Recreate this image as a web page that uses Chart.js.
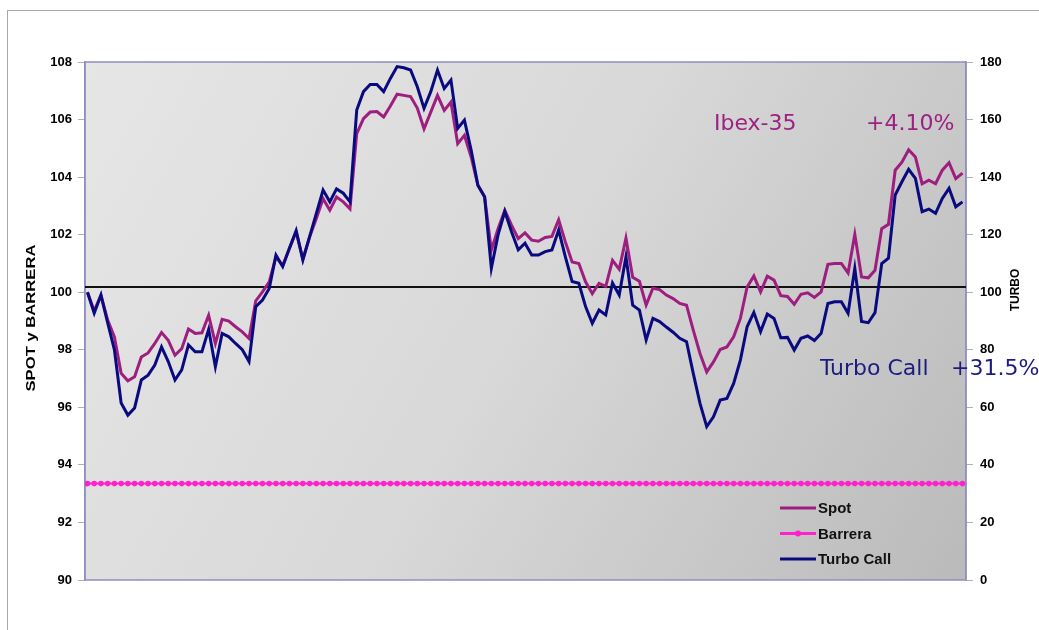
<!DOCTYPE html>
<html><head><meta charset="utf-8">
<script src="https://cdn.jsdelivr.net/npm/chart.js@4.4.1/dist/chart.umd.min.js"></script>
<style>
html,body{margin:0;padding:0;background:#fff;overflow:hidden;}
#wrap{position:relative;width:1039px;height:630px;}
#frame{position:absolute;left:7px;top:10px;width:1060px;height:660px;border:1px solid #a8a8a8;box-sizing:border-box;}
#c{position:absolute;left:0;top:0;}
</style></head><body>
<div id="wrap"><div id="frame"></div><canvas id="c" width="1039" height="630"></canvas></div>
<script>
// ---- data ----
const spot = [100.0,99.35,99.9,99.03,98.45,97.18,96.92,97.06,97.75,97.89,
  98.22,98.6,98.33,97.81,98.04,98.72,98.57,98.59,99.2,98.22,
  99.06,99.0,98.8,98.62,98.39,99.7,100.01,100.36,101.23,100.92,
  101.52,102.1,101.15,101.92,102.56,103.25,102.85,103.31,103.14,102.9,
  105.51,106.03,106.26,106.28,106.09,106.47,106.88,106.84,106.8,106.4,
  105.68,106.26,106.84,106.32,106.61,105.16,105.45,104.7,103.72,103.31,
  101.46,102.21,102.85,102.33,101.86,102.06,101.81,101.77,101.9,101.94,
  102.52,101.75,101.05,101.0,100.36,99.95,100.31,100.2,101.11,100.8,
  101.88,100.52,100.38,99.55,100.14,100.09,99.9,99.78,99.61,99.55,
  98.68,97.87,97.23,97.58,98.01,98.1,98.45,99.09,100.18,100.56,
  100.01,100.56,100.42,99.88,99.85,99.58,99.93,99.98,99.82,100.01,
  100.97,101.0,101.0,100.67,102.01,100.53,100.5,100.76,102.21,102.36,
  104.24,104.52,104.95,104.7,103.77,103.89,103.77,104.24,104.5,103.95,
  104.14];
const turbo = [100,92.7,99,89.3,80,61.5,57.3,59.8,69.5,71.2,
  74.7,81,75.9,69.5,73,81.7,79.3,79.3,87.1,74.1,
  85.7,84.5,82.2,80,75.9,95,97.3,101.3,112.9,108.9,
  115.3,121.4,111.2,119.3,127.4,135.5,131.4,135.9,134.4,131.4,
  163.3,169.7,172.2,172.2,169.7,174.3,178.4,178,177.2,171.4,
  163.9,169.7,177.2,170.8,173.7,156.9,159.8,149.4,137.2,133.2,
  108.3,119.9,128,121,114.7,117,112.9,112.9,114.1,114.7,
  121.6,112.3,103.7,103.1,95,89.2,93.8,92.1,103.2,99,
  112.3,95.5,93.8,83.4,90.9,89.8,87.9,86.1,84,82.8,
  71.8,61.4,53.3,56.7,62.5,63.1,68.3,76.4,88,93,
  86.3,92.4,90.9,84.2,84.3,79.9,84,84.8,83.2,85.7,
  96.1,96.7,96.7,92.7,108.3,89.8,89.4,92.9,110,111.8,
  133.8,138.4,142.7,139.6,128,128.9,127.4,132.6,136.1,129.7,
  131.4];
const barrierLevel = 93.35;
const strikeLevel = 100.18;
const seriesNames = ['Spot','Barrera','Turbo Call'];
const spotAxis = {min:90, max:108, step:2};
const turboAxis = {min:0, max:180, step:20};
const labelIbex = ['Ibex-35', '+4.10%'];
const labelTurbo = ['Turbo Call', '+31.5%'];

// ---- styles ----
const C_SPOT = '#9e1e80';
const C_BAR = '#ff22cc';
const C_TURBO = '#0a0a80';
const C_EDGE = '#8f8fc2';
const FONT = '"Liberation Sans", Arial, sans-serif';

const days = spot.map((_, i) => i);
const barrera = days.map(() => barrierLevel);

const bgPlugin = {
  id: 'bg',
  beforeDraw(chart) {
    const {ctx, chartArea: a} = chart;
    const g = ctx.createLinearGradient(a.left, a.top, a.right, a.bottom);
    g.addColorStop(0, '#e6e6e6');
    g.addColorStop(0.5, '#d8d8d8');
    g.addColorStop(1, '#bababa');
    ctx.save();
    ctx.fillStyle = g;
    ctx.fillRect(a.left, a.top, a.right - a.left, a.bottom - a.top);
    ctx.restore();
  },
  beforeDatasetsDraw(chart) {
    const {ctx, chartArea: a, scales} = chart;
    ctx.save();
    ctx.strokeStyle = C_EDGE;
    ctx.lineWidth = 1.5;
    ctx.strokeRect(a.left, a.top, a.right - a.left, a.bottom - a.top);
    const y = scales.y.getPixelForValue(strikeLevel);
    ctx.strokeStyle = '#111';
    ctx.lineWidth = 2;
    ctx.beginPath(); ctx.moveTo(a.left, y); ctx.lineTo(a.right, y); ctx.stroke();
    ctx.restore();
  },
  afterDraw(chart) {
    const {ctx} = chart;
    ctx.save();
    // annotations
    ctx.font = '22px "DejaVu Sans", Verdana, sans-serif';
    ctx.textBaseline = 'alphabetic';
    ctx.textAlign = 'left';
    ctx.fillStyle = '#9c2282';
    ctx.fillText(labelIbex[0], 714, 130);
    ctx.fillText(labelIbex[1], 866, 130);
    ctx.fillStyle = '#1c1c80';
    ctx.fillText(labelTurbo[0], 820, 375);
    ctx.fillText(labelTurbo[1], 951, 375);
    // axis titles
    ctx.fillStyle = '#000';
    ctx.font = 'bold 13px ' + FONT;
    ctx.textAlign = 'center';
    ctx.textBaseline = 'middle';
    ctx.save();
    ctx.translate(31, 318);
    ctx.rotate(-Math.PI / 2);
    ctx.scale(1.28, 1);
    ctx.fillText('SPOT y BARRERA', 0, 0);
    ctx.restore();
    ctx.save();
    ctx.font = 'bold 12px ' + FONT;
    ctx.translate(1016, 290);
    ctx.rotate(-Math.PI / 2);
    ctx.fillText('TURBO', 0, 0);
    ctx.restore();
    // legend
    const rows = [[seriesNames[0], C_SPOT, false], [seriesNames[1], C_BAR, true], [seriesNames[2], C_TURBO, false]];
    ctx.font = 'bold 15px ' + FONT;
    ctx.textAlign = 'left';
    rows.forEach((r, i) => {
      const y = 508 + i * 25.5;
      ctx.strokeStyle = r[1];
      ctx.lineWidth = 3;
      ctx.beginPath(); ctx.moveTo(780, y); ctx.lineTo(816, y); ctx.stroke();
      if (r[2]) { ctx.fillStyle = r[1]; ctx.beginPath(); ctx.arc(798, y, 3, 0, Math.PI * 2); ctx.fill(); }
      ctx.fillStyle = '#111';
      ctx.fillText(r[0], 818, y + 1);
    });
    ctx.restore();
  }
};

const tickFont = {family: FONT, size: 13, weight: 'bold'};

new Chart(document.getElementById('c'), {
  type: 'line',
  data: {
    datasets: [
      {label: seriesNames[2], data: days.map(i => ({x: i, y: turbo[i]})), yAxisID: 'y1',
       borderColor: C_TURBO, borderWidth: 3, pointRadius: 0, tension: 0, order: 0},
      {label: seriesNames[0], data: days.map(i => ({x: i, y: spot[i]})), yAxisID: 'y',
       borderColor: C_SPOT, borderWidth: 3, pointRadius: 0, tension: 0, order: 1},
      {label: seriesNames[1], data: days.map(i => ({x: i, y: barrera[i]})), yAxisID: 'y',
       borderColor: C_BAR, backgroundColor: C_BAR, borderWidth: 2, pointRadius: 2.8,
       pointBorderWidth: 0, pointStyle: 'circle', tension: 0, order: 2}
    ]
  },
  options: {
    responsive: false,
    animation: false,
    devicePixelRatio: 1,
    layout: {padding: {top: 62, bottom: 50, left: 0, right: 0}},
    plugins: {legend: {display: false}, tooltip: {enabled: false}},
    scales: {
      x: {type: 'linear', display: false, min: -0.37, max: 130.52},
      y: {
        position: 'left', min: spotAxis.min, max: spotAxis.max,
        ticks: {stepSize: spotAxis.step, color: '#000', font: tickFont, padding: 6},
        grid: {drawOnChartArea: false, drawTicks: true, tickLength: 7, color: '#b0b0b0'},
        border: {display: true, color: C_EDGE, width: 1.5},
        afterFit(s) { s.width = 85; }
      },
      y1: {
        position: 'right', min: turboAxis.min, max: turboAxis.max,
        ticks: {stepSize: turboAxis.step, color: '#000', font: tickFont, padding: 7},
        grid: {drawOnChartArea: false, drawTicks: true, tickLength: 7, color: '#b0b0b0'},
        border: {display: true, color: C_EDGE, width: 1.5},
        afterFit(s) { s.width = 73; }
      }
    }
  },
  plugins: [bgPlugin]
});
</script>
</body></html>
